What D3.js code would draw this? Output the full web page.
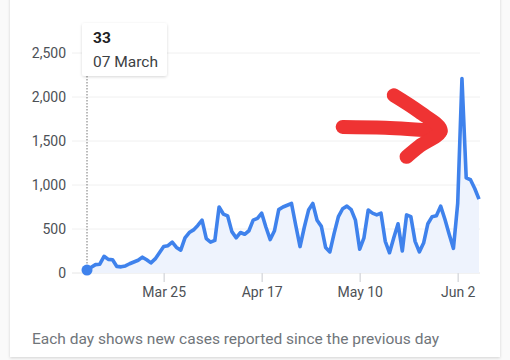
<!DOCTYPE html>
<html>
<head>
<meta charset="utf-8">
<script src="https://cdn.jsdelivr.net/npm/d3@7"></script>
<style>
  html, body { margin: 0; padding: 0; background: #fafafa; }
  svg { display: block; font-family: Roboto, "Noto Sans", sans-serif; }
</style>
</head>
<body>
<svg id="chart" width="510" height="360"></svg>
<script>
// ---- data ----
const startDate = "2020-03-07";
const newCases = [33, 65, 95, 100, 190, 155, 150, 75, 70, 80,
  105, 125, 145, 180, 150, 115, 160, 230, 300, 310,
  350, 290, 260, 400, 460, 490, 540, 600, 390, 350,
  370, 750, 670, 650, 470, 400, 460, 440, 480, 600,
  620, 680, 520, 380, 480, 720, 750, 770, 790, 540,
  300, 520, 715, 790, 600, 530, 290, 240, 450, 640,
  730, 760, 720, 600, 270, 400, 715, 680, 660, 680,
  360, 230, 400, 560, 250, 660, 640, 360, 240, 340,
  560, 640, 650, 760, 610, 440, 280, 790, 2210, 1080,
  1060, 960, 840];
const yTicks = [0, 500, 1000, 1500, 2000, 2500];
const xTickDates = ["2020-03-25", "2020-04-17", "2020-05-10", "2020-06-02"];
const xTickLabels = ["Mar 25", "Apr 17", "May 10", "Jun 2"];
const tooltipIndex = 0;
const caption = "Each day shows new cases reported since the previous day";
// annotation arrow (in date offset / value space)
const arrowShaft = [[60, 1660], [70, 1650], [83, 1610]];
const arrowHead = [[72.2, 2020], [78, 1830], [83, 1620], [78.5, 1440], [75.4, 1320]];

// ---- setup ----
const parse = d3.utcParse("%Y-%m-%d");
const t0 = parse(startDate);
const data = newCases.map((v, i) => ({ date: d3.utcDay.offset(t0, i), value: v }));

const svg = d3.select("#chart");

// card
const defs = svg.append("defs");
const f = defs.append("filter").attr("id", "shadow").attr("x", "-20%").attr("y", "-20%").attr("width", "140%").attr("height", "140%");
f.append("feDropShadow").attr("dx", 0).attr("dy", 1).attr("stdDeviation", 1.5).attr("flood-color", "#000").attr("flood-opacity", 0.16);

svg.append("rect").attr("x", 10).attr("y", -20).attr("width", 490).attr("height", 377)
  .attr("fill", "#fff").attr("filter", "url(#shadow)");

const x = d3.scaleUtc()
  .domain([t0, data[data.length - 1].date])
  .range([87, 479]);
const y = d3.scaleLinear().domain([0, 2500]).range([273, 53]);

// grid
svg.append("g").selectAll("line").data(yTicks).join("line")
  .attr("x1", 72).attr("x2", 480)
  .attr("y1", d => y(d)).attr("y2", d => y(d))
  .attr("stroke", d => d === 0 ? "#e6e6e6" : "#f0f0f0")
  .attr("stroke-width", 1);

// y labels
svg.append("g").selectAll("text").data(yTicks).join("text")
  .attr("x", 66).attr("y", d => y(d)).attr("dy", "0.35em")
  .attr("text-anchor", "end")
  .attr("font-size", 14).attr("fill", "#4d5156")
  .text(d => d3.format(",")(d));

// x axis
const xAxis = d3.axisBottom(x)
  .tickValues(xTickDates.map(parse))
  .tickFormat((d, i) => xTickLabels[i])
  .tickSize(9).tickPadding(5);
const gx = svg.append("g").attr("transform", `translate(0,${y(0)})`).call(xAxis);
gx.select(".domain").remove();
gx.selectAll(".tick line").attr("stroke", "#dadce0").attr("stroke-width", 1.5);
gx.selectAll(".tick text").attr("font-size", 14).attr("fill", "#4d5156")
  .attr("font-family", "Roboto, 'Noto Sans', sans-serif");

// area
const area = d3.area().x(d => x(d.date)).y0(y(0)).y1(d => y(d.value));
svg.append("path").datum(data).attr("d", area).attr("fill", "#eef3fd");

// tooltip guideline
const tp = data[tooltipIndex];
svg.append("line")
  .attr("x1", x(tp.date)).attr("x2", x(tp.date))
  .attr("y1", 76).attr("y2", y(tp.value))
  .attr("stroke", "#777").attr("stroke-width", 1).attr("stroke-dasharray", "1.5,1.5");

// line
const line = d3.line().x(d => x(d.date)).y(d => y(d.value));
svg.append("path").datum(data).attr("d", line)
  .attr("fill", "none").attr("stroke", "#3f82ec").attr("stroke-width", 3.6)
  .attr("stroke-linejoin", "round");

// dot
svg.append("circle").attr("cx", x(tp.date)).attr("cy", y(tp.value)).attr("r", 5.5).attr("fill", "#3f82ec");

// tooltip box
const tg = svg.append("g");
tg.append("rect").attr("x", 82).attr("y", 23).attr("width", 85).attr("height", 53).attr("rx", 3)
  .attr("fill", "#fff").attr("filter", "url(#shadow)");
tg.append("text").attr("x", 93).attr("y", 43).attr("font-size", 15.5).attr("font-weight", "bold")
  .attr("fill", "#202124").text(d3.format(",")(tp.value));
tg.append("text").attr("x", 93).attr("y", 67).attr("font-size", 15.5)
  .attr("fill", "#3c4043").text(d3.utcFormat("%d %B")(tp.date));

// red arrow annotation
const ax = d => x(d3.utcDay.offset(t0, d[0]));
const ay = d => y(d[1]);
const arrowLine = d3.line().x(ax).y(ay).curve(d3.curveCatmullRom);
svg.append("path").attr("d", arrowLine(arrowShaft))
  .attr("fill", "none").attr("stroke", "#ef3333").attr("stroke-width", 14)
  .attr("stroke-linecap", "round").attr("stroke-linejoin", "round");
svg.append("path").attr("d", arrowLine(arrowHead))
  .attr("fill", "none").attr("stroke", "#ef3333").attr("stroke-width", 14)
  .attr("stroke-linecap", "round").attr("stroke-linejoin", "round");

// caption
svg.append("text").attr("x", 32).attr("y", 344).attr("font-size", 15.5)
  .attr("fill", "#70757a").text(caption);
</script>
</body>
</html>
